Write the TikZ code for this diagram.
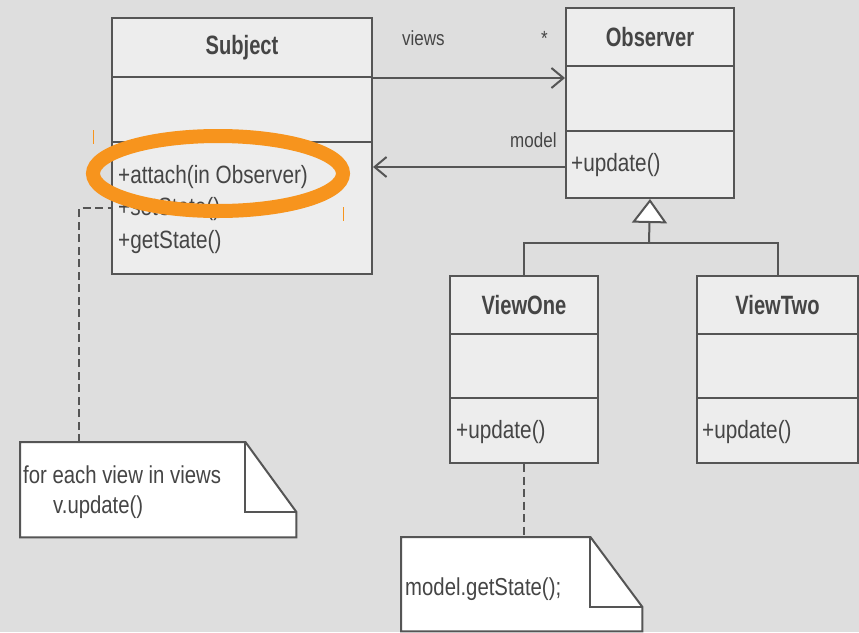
\documentclass[tikz,border=0pt]{standalone}
\usepackage{fontspec}
\setmainfont{Liberation Sans}[FakeStretch=0.83]
\newfontfamily\titlefont{Liberation Sans}[FakeStretch=0.76]
\usetikzlibrary{arrows.meta}

\definecolor{bgc}{HTML}{DEDEDE}
\definecolor{boxfill}{HTML}{EDEDED}
\definecolor{edge}{HTML}{555555}
\definecolor{ink}{HTML}{454545}
\definecolor{marker}{HTML}{F7941D}

\begin{document}
\begin{tikzpicture}[x=1pt, y=-1pt,
  part/.style={draw=edge, fill=boxfill, line width=2pt, rectangle,
    anchor=north west, inner sep=0pt},
  title/.style={part, text=ink, font=\titlefont\bfseries\fontsize{26.5}{30}\selectfont},
  member/.style={anchor=base west, inner sep=0pt, text=ink,
    font=\fontsize{25}{28}\selectfont},
  lbl/.style={anchor=base west, inner sep=0pt, text=ink,
    font=\fontsize{20.5}{24}\selectfont},
  notetext/.style={anchor=base west, inner sep=0pt, text=ink,
    font=\fontsize{24.5}{28}\selectfont},
  holder/.style={rectangle, anchor=north west, inner sep=0pt, draw=none},
  notebox/.style={draw=edge, fill=white, line width=2pt, line join=miter},
  assoc/.style={draw=edge, line width=2pt,
    -{Straight Barb[length=12pt, width=20pt, line width=2pt]}},
  tree/.style={draw=edge, line width=2pt},
  dashline/.style={draw=edge, line width=2pt, dash pattern=on 8pt off 4.5pt}
]
% canvas
\fill[bgc] (0,0) rectangle (859,632);
\useasboundingbox (0,0) rectangle (859,632);

% ---- Subject class ----
\node[title, minimum width=260pt, minimum height=59pt] (subjT) at (111,17) {Subject};
\node[part, minimum width=260pt, minimum height=65pt] (subjM) at (111,76) {};
\node[part, minimum width=260pt, minimum height=132pt] (subjO) at (111,141) {};
\node[member] (sm1) at (118,183) {+attach(in Observer)};
\node[member] (sm2) at (118,215.5) {+setState()};
\node[member] (sm3) at (118,248) {+getState()};

% ---- Observer class ----
\node[title, minimum width=168pt, minimum height=58pt] (obsT) at (565,7) {Observer};
\node[part, minimum width=168pt, minimum height=65pt] (obsM) at (565,65) {};
\node[part, minimum width=168pt, minimum height=67pt] (obsO) at (565,130) {};
\node[member] (om1) at (571,171) {+update()};

% ---- ViewOne class ----
\node[title, minimum width=148pt, minimum height=58pt] (v1T) at (449,275) {ViewOne};
\node[part, minimum width=148pt, minimum height=64pt] (v1M) at (449,333) {};
\node[part, minimum width=148pt, minimum height=65pt] (v1O) at (449,397) {};
\node[member] (v1m1) at (456,438) {+update()};

% ---- ViewTwo class ----
\node[title, minimum width=161pt, minimum height=58pt] (v2T) at (696,275) {ViewTwo};
\node[part, minimum width=161pt, minimum height=64pt] (v2M) at (696,333) {};
\node[part, minimum width=161pt, minimum height=65pt] (v2O) at (696,397) {};
\node[member] (v2m1) at (702,438) {+update()};

% ---- associations ----
\draw[assoc] (subjT.south east) -- (subjT.south east -| obsM.west);
\node[lbl] (lviews) at (402,45) {views};
\node[lbl] (lmult) at (541,45) {*};
\draw[assoc] ([yshift=-2.5pt]obsO.west) -- ([yshift=-2.5pt]obsO.west -| subjO.east);
\node[lbl] (lmodel) at (510,147) {model};

% ---- generalization ----
\coordinate (fork) at (649,243);
\draw[tree] (v1T.north) |- (fork) -| (v2T.north);
\draw[tree, -{Triangle[fill=white, length=24pt, width=35pt, line width=2pt]}]
  (fork) -- (obsO.south);

% ---- notes ----
\node[holder, minimum width=276pt, minimum height=95pt] (n1) at (20,442) {};
\draw[notebox] (n1.north west) -- ([xshift=-51pt]n1.north east)
  -- ([yshift=-70pt]n1.north east) -- (n1.south east) -- (n1.south west) -- cycle;
\draw[notebox, fill=none] ([xshift=-51pt]n1.north east) |- ([yshift=-70pt]n1.north east);
\node[notetext] (n1a) at (23,483) {for each view in views};
\node[notetext] (n1b) at (53,513) {v.update()};

\node[holder, minimum width=241pt, minimum height=94pt] (n2) at (401,537) {};
\draw[notebox] (n2.north west) -- ([xshift=-52pt]n2.north east)
  -- ([yshift=-70pt]n2.north east) -- (n2.south east) -- (n2.south west) -- cycle;
\draw[notebox, fill=none] ([xshift=-52pt]n2.north east) |- ([yshift=-70pt]n2.north east);
\node[notetext] (n2a) at (405,595) {model.getState();};

% ---- note anchors ----
\draw[dashline] ([xshift=59pt]n1.north west) |- (subjO.west);
\draw[dashline] (v1O.south) -- (v1O.south |- n2.north);

% ---- highlight ----
\draw[marker, line width=14pt] (218,173.5) ellipse [x radius=125pt, y radius=37.5pt];
\draw[marker, line width=1pt] (93,130) -- (93,144);
\draw[marker, line width=1pt] (343,207) -- (343,221);
\end{tikzpicture}
\end{document}
